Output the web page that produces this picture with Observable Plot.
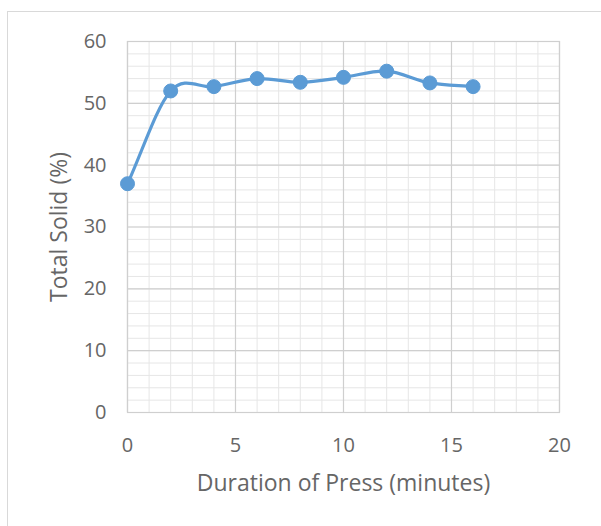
<!DOCTYPE html>
<html><head><meta charset="utf-8">
<script src="https://cdn.jsdelivr.net/npm/d3@7"></script>
<script src="https://cdn.jsdelivr.net/npm/@observablehq/plot@0.6"></script>
<style>
html,body{margin:0;padding:0;background:#fff;}
#wrap{position:relative;width:601px;height:526px;}
#border{position:absolute;left:7px;top:11px;width:600px;height:520px;border:1px solid #d9d9d9;box-sizing:border-box;}
</style>
</head><body>
<div id="wrap"><div id="border"></div><div id="chart" style="position:absolute;left:0;top:0"></div></div>
<script>
const minutes = [0, 2, 4, 6, 8, 10, 12, 14, 16];
const totalSolid = [37.0, 52.0, 52.7, 54.0, 53.4, 54.2, 55.2, 53.3, 52.7];
const xTicks = [0, 5, 10, 15, 20];
const yTicks = [0, 10, 20, 30, 40, 50, 60];
const data = minutes.map((m, i) => ({m, v: totalSolid[i]}));
const font = "'Open Sans', Lato, sans-serif";

// Spreadsheet-style smoothed line (Bezier, tangent parallel to neighbours' chord)
function SmoothCurve(context) { this._context = context; }
SmoothCurve.prototype = {
  areaStart() { this._line = 0; }, areaEnd() { this._line = NaN; },
  lineStart() { this._pts = []; },
  point(x, y) { this._pts.push([+x, +y]); },
  lineEnd() {
    const p = this._pts, n = p.length, c = this._context;
    if (!n) return;
    this._line ? c.lineTo(p[0][0], p[0][1]) : c.moveTo(p[0][0], p[0][1]);
    const dist = (a, b) => Math.hypot(b[0] - a[0], b[1] - a[1]);
    const tan = (i) => {
      if (i === 0) return [(p[1][0] - p[0][0]) / 3, (p[1][1] - p[0][1]) / 3];
      if (i === n - 1) return [(p[n-1][0] - p[n-2][0]) / 3, (p[n-1][1] - p[n-2][1]) / 3];
      return [(p[i+1][0] - p[i-1][0]) / 6, (p[i+1][1] - p[i-1][1]) / 6];
    };
    const clamp = (t, lim) => { const l = Math.hypot(t[0], t[1]); const s = l > lim ? lim / l : 1; return [t[0] * s, t[1] * s]; };
    if (n === 2) { c.lineTo(p[1][0], p[1][1]); }
    else for (let i = 0; i < n - 1; i++) {
      const d = dist(p[i], p[i+1]) / 2;
      const t1 = clamp(tan(i), d), t2 = clamp(tan(i+1), d);
      c.bezierCurveTo(p[i][0] + t1[0], p[i][1] + t1[1], p[i+1][0] - t2[0], p[i+1][1] - t2[1], p[i+1][0], p[i+1][1]);
    }
    if (this._line || (this._line !== 0 && n === 1)) c.closePath();
    this._line = 1 - this._line;
  }
};
const curveSmooth = (ctx) => new SmoothCurve(ctx);

const chart = Plot.plot({
  width: 601, height: 526,
  marginLeft: 127, marginRight: 42, marginTop: 41, marginBottom: 114,
  style: {fontFamily: font, background: "transparent", overflow: "visible"},
  x: {domain: [0, 20], label: null},
  y: {domain: [0, 60], label: null},
  marks: [
    Plot.gridX({interval: 1, stroke: "#e6e6e6", strokeOpacity: 1, strokeWidth: 1}),
    Plot.gridY({interval: 2, stroke: "#e6e6e6", strokeOpacity: 1, strokeWidth: 1}),
    Plot.gridX(xTicks, {stroke: "#cfcfcf", strokeOpacity: 1, strokeWidth: 1.2}),
    Plot.gridY(yTicks, {stroke: "#cfcfcf", strokeOpacity: 1, strokeWidth: 1.2}),
    Plot.frame({stroke: "#cfcfcf", strokeWidth: 1.2}),
    Plot.axisX(xTicks, {tickSize: 0, tickPadding: 25, fontSize: 20, fill: "#666666", label: null}),
    Plot.axisY(yTicks, {tickSize: 0, tickPadding: 21, fontSize: 20, fill: "#666666", label: null}),
    Plot.line(data, {x: "m", y: "v", stroke: "#5b9bd5", strokeWidth: 3.2, curve: curveSmooth}),
    Plot.dot(data, {x: "m", y: "v", r: 7, fill: "#5b9bd5", stroke: "#5b9bd5", strokeWidth: 1}),
    Plot.text(["Duration of Press (minutes)"], {frameAnchor: "bottom", lineAnchor: "middle", dy: 71, fontSize: 23, fill: "#666666"}),
    Plot.text(["Total Solid (%)"], {frameAnchor: "left", textAnchor: "middle", lineAnchor: "middle", dx: -68, rotate: -90, fontSize: 23, fill: "#666666"})
  ]
});
document.getElementById("chart").appendChild(chart);
</script>
</body></html>
